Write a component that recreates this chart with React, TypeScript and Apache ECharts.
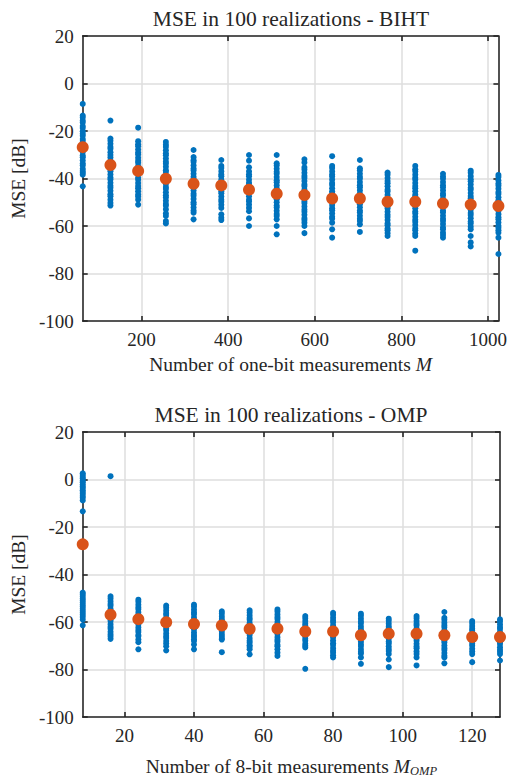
import React, { useEffect, useRef } from "react";
import * as echarts from "echarts";

// ---------- data ----------
const bihtM = [64, 128, 192, 256, 320, 384, 448, 512, 576, 640, 704, 768, 832, 896, 960, 1024];
const bihtMean = [-26.8, -34.3, -36.8, -40.1, -42.2, -42.9, -44.7, -46.4, -47.0, -48.4, -48.4, -49.8, -49.8, -50.5, -51.0, -51.6];
const bihtRuns: number[][] = [
  [-8.6, -13.5, -14.3, -15.6, -16.4, -17.9, -18.7, -20.1, -21.2, -22.0, -23.4, -24.2, -25.5, -26.9, -27.6, -28.8, -30.3, -31.1, -32.4, -33.7, -34.5, -35.9, -36.8, -37.6, -38.4, -43.3],
  [-15.6, -23.2, -24.1, -25.4, -26.7, -27.5, -28.9, -30.1, -31.2, -32.6, -33.4, -34.8, -36.0, -36.9, -38.3, -39.6, -40.4, -41.8, -43.1, -43.9, -45.2, -46.6, -47.5, -48.9, -50.3, -51.4],
  [-18.6, -24.3, -25.6, -26.4, -27.8, -29.1, -29.9, -31.3, -32.5, -33.4, -34.8, -36.1, -37.0, -38.3, -39.7, -40.5, -41.9, -43.2, -44.1, -45.4, -46.7, -47.6, -48.9, -51.0],
  [-24.6, -25.8, -26.7, -28.1, -29.4, -30.2, -31.6, -32.9, -33.8, -35.1, -36.5, -37.3, -38.7, -40.0, -40.9, -42.3, -43.6, -44.4, -45.8, -47.1, -48.0, -49.4, -50.7, -51.5, -53.0, -54.7, -55.8, -57.9, -58.9],
  [-28.0, -31.0, -32.3, -33.1, -34.5, -35.8, -36.6, -38.0, -39.3, -40.2, -41.5, -42.9, -43.7, -45.1, -46.4, -47.3, -48.6, -50.0, -50.8, -52.2, -53.5, -54.4, -57.2],
  [-32.2, -34.7, -35.6, -37.0, -38.3, -39.1, -40.5, -41.8, -42.7, -44.0, -45.4, -46.2, -47.6, -48.9, -49.8, -51.1, -52.4, -55.1, -56.5, -57.5],
  [-30.1, -32.5, -35.3, -37.0, -38.2, -39.1, -40.5, -41.8, -42.6, -44.0, -45.3, -46.2, -47.5, -48.9, -49.7, -51.0, -52.4, -53.8, -56.8, -60.0],
  [-30.1, -33.6, -34.5, -35.9, -37.2, -38.0, -39.4, -40.7, -41.6, -42.9, -44.3, -45.1, -46.5, -47.8, -48.7, -50.0, -51.4, -52.2, -53.6, -54.9, -55.8, -57.2, -60.0, -63.5],
  [-31.9, -33.3, -35.3, -36.2, -37.6, -38.9, -39.8, -41.1, -42.5, -43.3, -44.7, -46.0, -46.9, -48.2, -49.6, -50.4, -51.8, -53.1, -54.0, -55.3, -56.7, -57.5, -58.6, -60.0, -63.0],
  [-30.6, -34.7, -35.6, -37.0, -38.3, -39.2, -40.5, -41.9, -42.7, -44.1, -45.4, -46.3, -47.6, -49.0, -49.8, -51.2, -52.5, -53.4, -54.7, -56.1, -56.9, -58.6, -61.4, -64.9],
  [-32.2, -35.7, -36.6, -38.0, -39.3, -40.1, -41.5, -42.8, -43.7, -45.0, -46.4, -47.2, -48.6, -49.9, -50.8, -52.1, -53.5, -54.3, -55.7, -57.0, -57.9, -59.3, -62.5],
  [-37.5, -38.4, -39.8, -41.1, -42.0, -43.3, -44.7, -45.5, -46.9, -48.2, -49.1, -50.4, -51.8, -52.6, -54.0, -55.3, -56.2, -57.5, -58.9, -59.7, -61.1, -61.8, -63.0, -64.2],
  [-34.7, -36.1, -37.0, -38.4, -39.7, -40.5, -41.9, -43.2, -44.1, -45.4, -46.8, -47.6, -49.0, -50.3, -51.2, -52.5, -53.9, -54.7, -56.1, -57.4, -58.3, -59.6, -61.0, -61.8, -63.2, -64.2, -70.4],
  [-38.0, -39.2, -40.1, -41.5, -42.8, -43.7, -45.0, -46.4, -47.2, -48.6, -49.9, -50.8, -52.1, -53.5, -54.3, -55.7, -57.0, -57.9, -59.2, -60.6, -61.4, -62.8, -63.8, -64.9],
  [-36.7, -37.6, -39.0, -40.3, -41.2, -42.5, -43.9, -44.7, -46.1, -47.4, -48.3, -49.6, -51.0, -51.8, -53.2, -54.5, -55.4, -56.7, -58.1, -58.9, -60.3, -61.4, -64.2, -66.9, -68.6],
  [-38.5, -39.4, -40.8, -42.1, -43.0, -44.3, -45.7, -46.5, -47.9, -49.2, -50.1, -51.4, -52.8, -53.6, -55.0, -56.3, -57.2, -58.5, -59.9, -60.7, -61.8, -62.8, -64.9, -71.8],
];

const ompM = [8, 16, 24, 32, 40, 48, 56, 64, 72, 80, 88, 96, 104, 112, 120, 128];
const ompMean = [-27.3, -56.9, -58.8, -60.1, -60.8, -61.5, -62.9, -62.8, -64.0, -64.0, -65.6, -64.9, -64.9, -65.6, -66.3, -66.3];
const ompRuns: number[][] = [
  [2.6, 1.9, 1.1, 0.4, -0.5, -1.2, -2.1, -2.9, -3.6, -4.5, -5.3, -6.0, -6.9, -7.7, -8.8, -13.4, -47.6, -48.3, -49.2, -50.1, -50.9, -51.8, -52.7, -53.5, -54.4, -55.3, -56.1, -57.0, -57.9, -59.0, -61.4],
  [1.4, -49.2, -50.1, -51.3, -52.4, -53.2, -54.5, -55.6, -56.4, -57.7, -58.8, -59.6, -60.9, -62.0, -62.8, -64.1, -65.2, -66.0, -67.1],
  [-50.6, -51.5, -52.7, -53.8, -54.6, -55.9, -57.0, -57.8, -59.1, -60.2, -61.0, -62.3, -63.4, -64.2, -65.5, -66.0, -67.4, -68.5, -71.5],
  [-53.1, -54.0, -55.2, -56.3, -57.1, -58.4, -59.5, -60.3, -61.6, -62.7, -63.5, -64.8, -65.9, -66.7, -68.0, -69.1, -70.2, -72.0],
  [-52.7, -53.6, -54.8, -55.9, -56.7, -58.0, -59.1, -59.9, -61.2, -62.3, -63.1, -64.4, -65.5, -66.3, -67.3, -68.0, -69.5, -71.5],
  [-55.5, -56.4, -57.6, -58.7, -59.5, -60.8, -61.9, -62.7, -64.0, -65.1, -65.9, -66.8, -67.4, -72.7],
  [-55.1, -56.0, -57.2, -58.3, -59.1, -60.4, -61.5, -62.3, -63.6, -64.7, -65.5, -66.8, -67.9, -68.7, -69.8, -70.5, -71.5, -73.6],
  [-54.7, -55.6, -56.8, -57.9, -58.7, -60.0, -61.1, -61.9, -63.2, -64.3, -65.1, -66.4, -67.5, -68.3, -69.6, -70.2, -71.5, -72.9, -74.3],
  [-57.5, -58.4, -59.6, -60.7, -61.5, -62.8, -63.9, -64.7, -66.0, -67.1, -67.9, -69.2, -70.0, -70.7, -79.7],
  [-56.1, -57.0, -58.2, -59.3, -60.1, -61.4, -62.5, -63.3, -64.6, -65.7, -66.5, -67.8, -68.9, -69.7, -71.0, -72.1, -72.9, -74.0, -74.9],
  [-56.5, -57.4, -58.6, -59.7, -60.5, -61.8, -62.9, -63.7, -65.0, -66.1, -66.9, -68.2, -69.3, -70.1, -71.4, -72.5, -73.3, -74.9, -77.6],
  [-58.6, -59.5, -60.7, -61.8, -62.6, -63.9, -65.0, -65.8, -67.1, -68.2, -69.0, -70.3, -71.4, -72.2, -73.5, -75.8, -79.0],
  [-57.5, -58.4, -59.6, -60.7, -61.5, -62.8, -63.9, -64.7, -66.0, -67.1, -67.9, -69.2, -70.3, -71.1, -72.4, -73.5, -74.9, -78.3],
  [-55.8, -58.2, -59.1, -60.3, -61.4, -62.2, -63.5, -64.6, -65.4, -66.7, -67.8, -68.6, -69.9, -71.0, -71.8, -73.1, -74.2, -74.9, -77.4],
  [-59.6, -60.5, -61.7, -62.8, -63.6, -64.9, -66.0, -66.8, -68.1, -69.2, -70.0, -71.3, -72.4, -73.5, -76.9],
  [-58.9, -59.8, -61.0, -62.1, -62.9, -64.2, -65.3, -66.1, -67.4, -68.5, -69.3, -70.6, -71.7, -72.5, -73.5, -76.2],
];

const bihtXTicks = [200, 400, 600, 800, 1000];
const ompXTicks = [20, 40, 60, 80, 100, 120];
const yMin = -100;
const yMax = 20;
const yStep = 20;

const titleBIHT = "MSE in 100 realizations - BIHT";
const titleOMP = "MSE in 100 realizations - OMP";
const yName = "MSE [dB]";

// ---------- styles ----------
const FONT = '"Liberation Serif", "Times New Roman", Times, serif';
const AX = "#262626";
const GRIDC = "#dedede";
const BLUE = "#0072BD";
const ORANGE = "#D95319";
const TICK_FS = 19;
const LABEL_FS = 19.5;
const TITLE_FS = 21.5;

const plainNum = (v: number) => String(v);

function xAxes(gridIndex: number, min: number, max: number, ticks: number[], name: string, nameGap: number) {
  return [
    {
      gridIndex,
      type: "value",
      position: "bottom",
      min,
      max,
      axisLine: { show: true, onZero: false, lineStyle: { color: AX, width: 1.6 } },
      axisTick: { show: true, inside: true, length: 5, customValues: ticks, lineStyle: { color: AX, width: 1.6 } },
      axisLabel: { show: true, customValues: ticks, formatter: plainNum, color: AX, fontFamily: FONT, fontSize: TICK_FS, margin: 9 },
      splitLine: { show: true, lineStyle: { color: GRIDC, width: 1.5 } },
      name,
      nameLocation: "middle",
      nameGap,
      nameTextStyle: {
        color: AX,
        fontFamily: FONT,
        fontSize: LABEL_FS,
        lineHeight: 22,
        rich: {
          i: { color: AX, fontFamily: FONT, fontSize: LABEL_FS, fontStyle: "italic", lineHeight: 22 },
          s: { color: AX, fontFamily: FONT, fontSize: 12.5, fontStyle: "italic", lineHeight: 14, verticalAlign: "bottom", padding: [12, 0, 0, 0] },
        },
      },
    },
    {
      gridIndex,
      type: "value",
      position: "top",
      min,
      max,
      axisLine: { show: true, onZero: false, lineStyle: { color: AX, width: 1.6 } },
      axisTick: { show: true, inside: true, length: 5, customValues: ticks, lineStyle: { color: AX, width: 1.6 } },
      axisLabel: { show: false },
      splitLine: { show: false },
    },
  ];
}

function yAxes(gridIndex: number) {
  return [
    {
      gridIndex,
      type: "value",
      position: "left",
      min: yMin,
      max: yMax,
      interval: yStep,
      axisLine: { show: true, onZero: false, lineStyle: { color: AX, width: 1.6 } },
      axisTick: { show: true, inside: true, length: 5, lineStyle: { color: AX, width: 1.6 } },
      axisLabel: { color: AX, fontFamily: FONT, fontSize: TICK_FS, margin: 9, formatter: plainNum },
      splitLine: { show: true, lineStyle: { color: GRIDC, width: 1.5 } },
      name: yName,
      nameLocation: "middle",
      nameRotate: 90,
      nameGap: 52,
      nameTextStyle: { color: AX, fontFamily: FONT, fontSize: LABEL_FS },
    },
    {
      gridIndex,
      type: "value",
      position: "right",
      min: yMin,
      max: yMax,
      interval: yStep,
      axisLine: { show: true, onZero: false, lineStyle: { color: AX, width: 1.6 } },
      axisTick: { show: true, inside: true, length: 5, lineStyle: { color: AX, width: 1.6 } },
      axisLabel: { show: false },
      splitLine: { show: false },
    },
  ];
}

function runsData(ms: number[], runs: number[][]) {
  const out: number[][] = [];
  runs.forEach((vals, i) => vals.forEach((v) => out.push([ms[i], v])));
  return out;
}

function scatter(xi: number, data: number[][], size: number, color: string, z: number) {
  return {
    type: "scatter",
    xAxisIndex: xi,
    yAxisIndex: xi,
    data,
    symbol: "circle",
    symbolSize: size,
    itemStyle: { color, opacity: 1 },
    clip: false,
    silent: true,
    z,
  };
}

export default function App() {
  const ref = useRef<HTMLDivElement>(null);
  useEffect(() => {
    if (!ref.current) return;
    const chart = echarts.init(ref.current, null, { renderer: "svg" });
    const option: any = {
      animation: false,
      backgroundColor: "#ffffff",
      grid: [
        { left: 82, top: 36, width: 418, height: 285, containLabel: false },
        { left: 82, top: 432, width: 418, height: 286, containLabel: false },
      ],
      xAxis: [
        ...xAxes(0, 64, 1024, bihtXTicks, "Number of one-bit measurements {i|M}", 32),
        ...xAxes(1, 8, 128, ompXTicks, "Number of 8-bit measurements {i|M}{s|OMP}", 38),
      ],
      yAxis: [...yAxes(0), ...yAxes(1)],
      graphic: [
        {
          type: "text",
          x: 291,
          y: 19,
          style: { text: titleBIHT, align: "center", verticalAlign: "middle", fill: AX, fontFamily: FONT, fontSize: TITLE_FS },
        },
        {
          type: "text",
          x: 291,
          y: 415,
          style: { text: titleOMP, align: "center", verticalAlign: "middle", fill: AX, fontFamily: FONT, fontSize: TITLE_FS },
        },
      ],
      series: [
        scatter(0, runsData(bihtM, bihtRuns), 6, BLUE, 2),
        scatter(0, bihtM.map((m, i) => [m, bihtMean[i]]), 12, ORANGE, 3),
        scatter(2, runsData(ompM, ompRuns), 6, BLUE, 2),
        scatter(2, ompM.map((m, i) => [m, ompMean[i]]), 12, ORANGE, 3),
      ],
    };
    chart.setOption(option);
    return () => chart.dispose();
  }, []);
  return <div ref={ref} style={{ position: "absolute", left: 0, top: 0, width: 510, height: 778 }} />;
}
